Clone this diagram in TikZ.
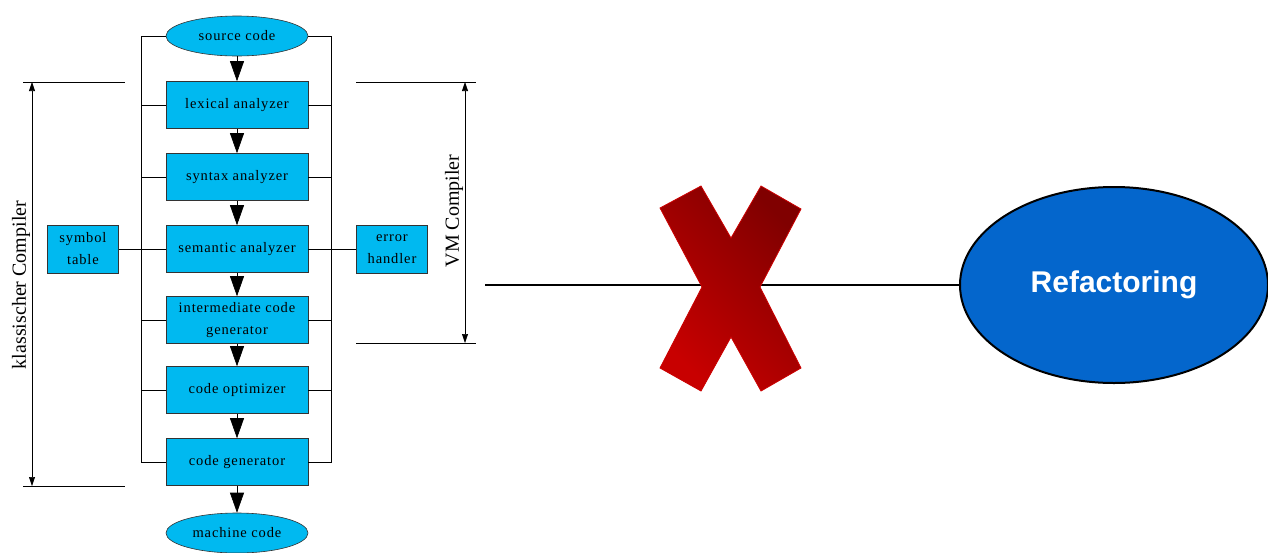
\documentclass[tikz,border=0pt]{standalone}
\usepackage{fontspec}
\setmainfont{Liberation Serif}
\newfontfamily\stagefont[LetterSpace=6]{Liberation Serif}
\newfontfamily\bigfont{Liberation Sans}
\usetikzlibrary{shapes.geometric,arrows.meta}

\definecolor{stageblue}{RGB}{0,185,240}
\definecolor{refacblue}{RGB}{4,102,204}
\definecolor{crossdark}{RGB}{128,0,0}
\definecolor{crosslight}{RGB}{200,0,0}

\tikzset{
  stage/.style={rectangle,draw=black!80,fill=stageblue,minimum width=142pt,minimum height=47pt,
    inner sep=2pt,align=center,font=\stagefont\fontsize{14.5}{22}\selectfont},
  sidebox/.style={stage,minimum width=71pt,minimum height=48pt},
  endpoint/.style={ellipse,draw=black!80,fill=stageblue,minimum width=142pt,minimum height=40pt,
    inner sep=0pt,font=\stagefont\fontsize{14.5}{16}\selectfont},
  flow/.style={-{Triangle[width=14pt,length=20pt]},line width=0.6pt},
  dimline/.style={{Triangle[width=6pt,length=9pt]}-{Triangle[width=6pt,length=9pt]},line width=0.6pt}
}

\begin{document}
\begin{tikzpicture}[x=1pt,y=-1pt,line width=0.6pt]
  \useasboundingbox (0,0) rectangle (1268,552);

  % compiler stages
  \node[endpoint] (src) at (237,36) {source code};
  \node[stage] (lex)   at (237,105) {lexical analyzer};
  \node[stage] (syn)   at (237,177) {syntax analyzer};
  \node[stage] (sem)   at (237,249) {semantic analyzer};
  \node[stage] (inter) at (237,320) {intermediate code\\generator};
  \node[stage] (opt)   at (237,390) {code optimizer};
  \node[stage] (gen)   at (237,462) {code generator};
  \node[endpoint] (mach) at (237,533) {machine code};

  \node[sidebox] (sym) at (83,249)  {symbol\\table};
  \node[sidebox] (err) at (392,249) {error\\handler};

  % bus lines left and right
  \draw (src.west) -- ++(-24,0) |- (gen.west);
  \draw (src.east) -- ++(23,0) |- (gen.east);
  \foreach \n in {lex,syn,inter,opt} {
    \draw (\n.west) -- ++(-24,0);
    \draw (\n.east) -- ++(23,0);
  }
  \draw (sym) -- (sem);
  \draw (sem) -- (err);

  \draw[flow] (src) -- (lex);
  \draw[flow] (lex) -- (syn);
  \draw[flow] (syn) -- (sem);
  \draw[flow] (sem) -- (inter);
  \draw[flow] (inter) -- (opt);
  \draw[flow] (opt) -- (gen);
  \draw[flow] (gen) -- (mach);

  % dimension marks
  \coordinate (kt) at (32,82);
  \coordinate (kb) at (32,486);
  \draw (23,82) -- (125,82);
  \draw (23,486) -- (125,486);
  \draw[dimline] (kt) -- (kb);
  \node[rotate=90,font=\fontsize{20}{22}\selectfont] (klass) at (21,285) {klassischer Compiler};

  \coordinate (vt) at (465,82);
  \coordinate (vb) at (465,343);
  \draw (356,82) -- (476,82);
  \draw (356,343) -- (476,343);
  \draw[dimline] (vt) -- (vb);
  \node[rotate=90,font=\fontsize{20}{22}\selectfont] (vm) at (454,211) {VM Compiler};

  % crossed-out link to refactoring
  \node[ellipse,draw=black,line width=2pt,fill=refacblue,minimum width=308pt,minimum height=196pt,
    font=\bigfont\bfseries\fontsize{30}{34}\selectfont,text=white] (refac) at (1114,285) {Refactoring};
  \coordinate (start) at (485,285);
  \draw[line width=2.5pt] (start) -- (refac.west);

  \shade[draw=red!80!black,line width=0.8pt,top color=crossdark,bottom color=crosslight,shading angle=-45]
    (660,208) -- (701,186) -- (731,238) -- (761,186) -- (801,209) -- (760,287)
    -- (801,368) -- (761,391) -- (731,337) -- (701,391) -- (660,368) -- (702,287) -- cycle;
\end{tikzpicture}
\end{document}
